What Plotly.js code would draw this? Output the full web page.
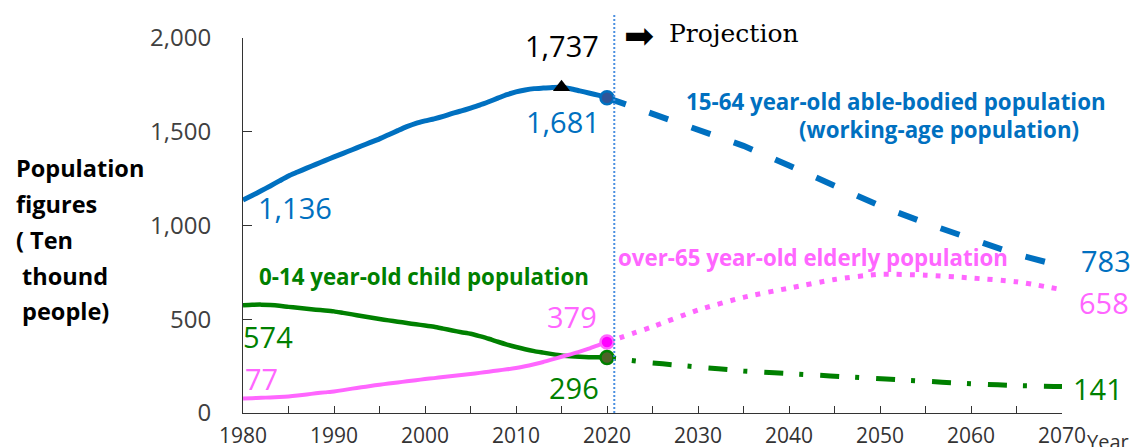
<!DOCTYPE html>
<html>
<head>
<meta charset="utf-8">
<script src="https://cdn.plot.ly/plotly-3.0.1.min.js"></script>
<style>html,body{margin:0;padding:0;background:#fff;}#chart{width:1135px;height:447px;}</style>
</head>
<body>
<div id="chart"></div>
<script>
// ---- Data (ten thousand people) ----
const histYears = [1980,1981,1982,1983,1984,1985,1986,1987,1988,1989,1990,1991,1992,1993,1994,1995,1996,1997,1998,1999,2000,2001,2002,2003,2004,2005,2006,2007,2008,2009,2010,2011,2012,2013,2014,2015,2016,2017,2018,2019,2020];
const workingHist = [1136,1160,1185,1211,1238,1264,1285,1306,1326,1346,1366,1385,1404,1424,1443,1462,1484,1506,1527,1545,1558,1569,1582,1598,1611,1626,1642,1660,1679,1698,1713,1723,1730,1733,1736,1737,1729,1718,1707,1695,1681];
const childHist = [574,577,578,576,572,566,561,556,551,547,542,534,526,517,509,501,494,487,480,473,467,460,450,440,431,423,410,396,380,365,352,340,330,322,314,307,303,300,298,297,296];
const elderlyHist = [77,79,81,83,85,88,93,99,105,110,115,122,130,137,144,151,157,163,169,175,181,186,192,197,203,208,214,220,227,233,240,249,260,272,286,300,313,327,343,361,379];

const projYears = [2020,2025,2030,2035,2040,2045,2050,2055,2060,2065,2070];
const workingProj = [1681,1596,1504,1425,1320,1214,1105,1013,927,846,783];
const elderlyProj = [379,460,549,617,666,712,740,735,720,700,658];
const childProj = [296,267,245,224,210,195,185,168,156,146,141];

const peakYear = 2015;
const peakValue = 1737;
const projectionStart = 2020.8;

const yTickVals = [0,500,1000,1500,2000];
const xTickVals = [1980,1990,2000,2010,2020,2030,2040,2050,2060,2070];

const seriesNames = {
  working: ['15-64 year-old able-bodied population', '(working-age population)'],
  elderly: 'over-65 year-old elderly population',
  child: '0-14 year-old child population'
};
const yTitleLines = ['Population', 'figures', '( Ten', '&nbsp;thound', '&nbsp;people)'];

// ---- Styles ----
const BLUE = '#0070C0', GREEN = '#008000', PINK = '#FF66FF';
const NUMFONT = 'Open Sans, Noto Sans, sans-serif';
const fmt = v => v.toLocaleString('en-US');
const last = a => a[a.length - 1];

const traces = [
  {x: histYears, y: workingHist, mode: 'lines', line: {color: BLUE, width: 5, shape: 'spline', smoothing: 0.6}, cliponaxis: false},
  {x: histYears, y: childHist, mode: 'lines', line: {color: GREEN, width: 4.5, shape: 'spline', smoothing: 0.6}, cliponaxis: false},
  {x: histYears, y: elderlyHist, mode: 'lines', line: {color: PINK, width: 4, shape: 'spline', smoothing: 0.6}, cliponaxis: false},
  {x: projYears, y: workingProj, mode: 'lines', line: {color: BLUE, width: 6, dash: '20px,24.8px'}, cliponaxis: false},
  {x: projYears, y: elderlyProj, mode: 'lines', line: {color: PINK, width: 5, dash: '5px,8px', shape: 'spline', smoothing: 0.6}, cliponaxis: false},
  {x: projYears, y: childProj, mode: 'lines', line: {color: GREEN, width: 5, dash: '9px,16px,4px,17px,10px,0px'}, cliponaxis: false},
  {x: [last(histYears)], y: [last(workingHist)], mode: 'markers', marker: {size: 13, color: '#2F5597', line: {color: BLUE, width: 2.5}}, cliponaxis: false},
  {x: [last(histYears)], y: [last(elderlyHist)], mode: 'markers', marker: {size: 13, color: '#FF00FF', line: {color: PINK, width: 2.5}}, cliponaxis: false},
  {x: [last(histYears)], y: [last(childHist)], mode: 'markers', marker: {size: 13, color: '#4F6228', line: {color: GREEN, width: 2.5}}, cliponaxis: false},
  {x: [peakYear], y: [peakValue], mode: 'markers', marker: {symbol: 'triangle-up', size: 15, color: '#000'}, cliponaxis: false}
];

function valLabel(x, y, color, xs, ys) {
  return {x: x, y: y, xref: 'x', yref: 'y', text: fmt(y), showarrow: false,
          xanchor: 'center', yanchor: 'middle', xshift: xs, yshift: ys,
          font: {family: NUMFONT, size: 29, color: color}};
}
function paperText(text, x, y, color, size, family, anchor) {
  return {x: x, y: y, xref: 'paper', yref: 'paper', text: text, showarrow: false,
          xanchor: anchor || 'left', yanchor: 'middle',
          font: {family: family, size: size, color: color}};
}

const annotations = [
  valLabel(histYears[0], workingHist[0], BLUE, 52, -7),
  valLabel(peakYear, peakValue, '#000', 0, 42),
  valLabel(last(histYears), last(workingHist), BLUE, -44, -24),
  valLabel(last(projYears), last(workingProj), BLUE, 44, 6),
  valLabel(histYears[0], childHist[0], GREEN, 25, -31),
  valLabel(histYears[0], elderlyHist[0], PINK, 18, 20),
  valLabel(last(histYears), last(elderlyHist), PINK, -35, 25),
  valLabel(last(histYears), last(childHist), GREEN, -33, -30),
  valLabel(last(projYears), last(elderlyProj), PINK, 42, -13),
  valLabel(last(projYears), last(childProj), GREEN, 36, -2),
  paperText('<b>' + seriesNames.working[0] + '</b>', 0.5385, 0.832, BLUE, 22.3, NUMFONT),
  paperText('<b>' + seriesNames.working[1] + '</b>', 0.6765, 0.7573, BLUE, 22.3, NUMFONT),
  paperText('<b>' + seriesNames.elderly + '</b>', 0.4555, 0.416, PINK, 22.3, NUMFONT),
  paperText('<b>' + seriesNames.child + '</b>', 0.0171, 0.3627, GREEN, 22.3, NUMFONT),
  paperText('➡', 0.4835, 1.008, '#000', 36, 'DejaVu Sans', 'center'),
  paperText('Projection', 0.5175, 1.0133, '#000', 25, 'DejaVu Serif, Liberation Serif, serif'),
  paperText('Year', 1.028, -0.077, '#333', 20, NUMFONT)
];
const yTitleY = [0.6533, 0.5573, 0.4613, 0.3653, 0.272];
yTitleLines.forEach((t, i) => {
  annotations.push(paperText('<b>' + t + '</b>', -0.2796, yTitleY[i], '#000', 23.5, NUMFONT));
});

const layout = {
  width: 1135, height: 447,
  margin: {l: 243, r: 73, t: 38, b: 34},
  paper_bgcolor: '#fff', plot_bgcolor: '#fff',
  showlegend: false, hovermode: false,
  xaxis: {
    range: [1980, 2070], tickvals: xTickVals, ticks: 'inside', ticklen: 7, tickcolor: '#333',
    showline: true, linecolor: '#333', linewidth: 1, showgrid: false, zeroline: false,
    tickfont: {family: NUMFONT, size: 21, color: '#333'}, ticklabelstandoff: 4,
    minor: {dtick: 5, tick0: 1980, ticks: 'inside', ticklen: 7, tickcolor: '#333', showgrid: false}
  },
  yaxis: {
    range: [0, 2000], tickvals: yTickVals, tickformat: ',d', ticks: 'inside', ticklen: 9, tickcolor: '#333',
    showline: true, linecolor: '#333', linewidth: 1, showgrid: false, zeroline: false,
    tickfont: {family: NUMFONT, size: 24, color: '#404040'}, ticklabelstandoff: 26
  },
  shapes: [{
    type: 'line', xref: 'x', yref: 'paper', x0: projectionStart, x1: projectionStart, y0: 0, y1: 1.067,
    line: {color: '#4A8FE0', width: 2, dash: '2px,2px'}
  }],
  annotations: annotations
};

Plotly.newPlot('chart', traces, layout, {displayModeBar: false, staticPlot: true});
</script>
</body>
</html>
